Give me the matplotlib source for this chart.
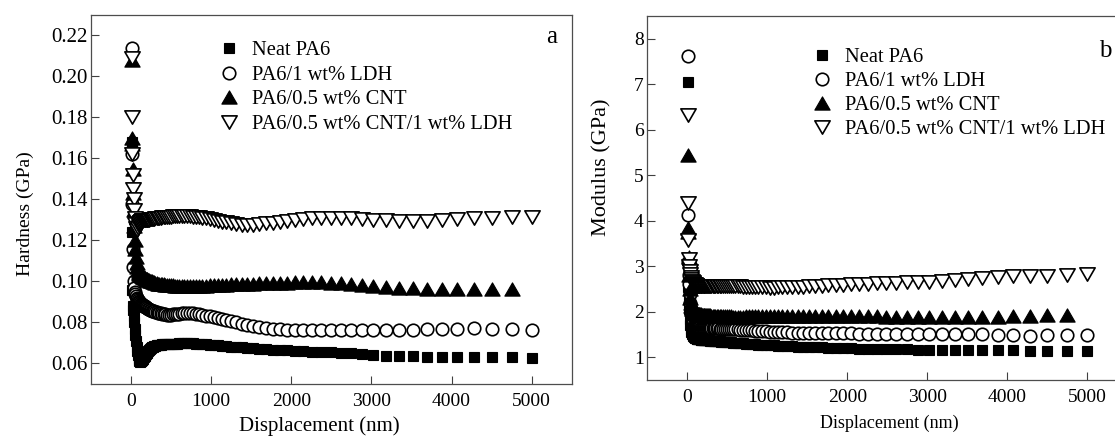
import matplotlib.pyplot as plt
from matplotlib.path import Path
from matplotlib.ticker import FormatStrFormatter

plt.rcParams['font.family'] = 'Liberation Serif'

# displacement grid (nm), shared by all curves
disp = [5, 10, 15, 20, 26, 32, 38, 45, 52, 60, 68, 76, 84, 92, 98,
        103, 108, 113, 119, 125, 131, 138, 145, 152, 160,
        168, 176, 185, 194, 204, 214, 225, 236, 248, 261,
        274, 288, 302, 317, 333, 350, 367, 386, 405, 426,
        447, 470, 493, 518, 544, 571, 600, 630, 662, 695,
        730, 767, 805, 846, 888, 933, 980, 1030, 1080, 1135,
        1190, 1250, 1315, 1380, 1450, 1525, 1600, 1680, 1765, 1855,
        1950, 2045, 2150, 2255, 2370, 2490, 2615, 2745, 2880, 3025,
        3180, 3345, 3515, 3690, 3880, 4070, 4280, 4500, 4750, 5000]

labels = ["Neat PA6", "PA6/1 wt% LDH", "PA6/0.5 wt% CNT",
          "PA6/0.5 wt% CNT/1 wt% LDH"]

# hardness (GPa)
hard_neat = [0.168, 0.124, 0.096, 0.088, 0.086, 0.083, 0.080, 0.077, 0.074, 0.071, 0.068, 0.066, 0.064, 0.0625, 0.0618,
             0.0613, 0.061, 0.0609, 0.061, 0.0612, 0.0615, 0.0619, 0.0623, 0.0627, 0.0632,
             0.0637, 0.0642, 0.0647, 0.0652, 0.0657, 0.0662, 0.0667, 0.0671, 0.0675, 0.0679,
             0.0682, 0.0685, 0.0687, 0.0689, 0.069, 0.0691, 0.0692, 0.0693, 0.0693, 0.0694,
             0.0694, 0.0694, 0.0694, 0.0695, 0.0696, 0.0697, 0.0698, 0.0698, 0.0698, 0.0698,
             0.0698, 0.0698, 0.0697, 0.0696, 0.0695, 0.0694, 0.0692, 0.069, 0.0688, 0.0686,
             0.0684, 0.0682, 0.068, 0.0678, 0.0676, 0.0674, 0.0672, 0.067, 0.0668, 0.0666,
             0.0664, 0.0662, 0.066, 0.0658, 0.0656, 0.0654, 0.0652, 0.065, 0.0645, 0.064,
             0.0638, 0.0636, 0.0635, 0.0633, 0.0632, 0.063, 0.063, 0.063, 0.063, 0.0628]
hard_ldh = [0.214, 0.162, 0.138, 0.116, 0.107, 0.100, 0.097, 0.095, 0.094, 0.093, 0.092, 0.0915, 0.091, 0.0905, 0.090,
            0.0898, 0.0896, 0.0894, 0.0892, 0.089, 0.0888, 0.0886, 0.0884, 0.0882, 0.088,
            0.0878, 0.0876, 0.0874, 0.0872, 0.087, 0.0868, 0.0865, 0.0862, 0.086, 0.0858,
            0.0856, 0.0854, 0.0852, 0.085, 0.0848, 0.0846, 0.0844, 0.0842, 0.084, 0.0839,
            0.0838, 0.0838, 0.0838, 0.0839, 0.084, 0.0842, 0.0843, 0.0844, 0.0845, 0.0845,
            0.0845, 0.0844, 0.0842, 0.084, 0.0837, 0.0834, 0.0831, 0.0827, 0.0822, 0.0817,
            0.0812, 0.0806, 0.08, 0.0794, 0.0788, 0.0783, 0.0778, 0.0774, 0.077, 0.0767,
            0.0765, 0.0764, 0.0763, 0.0762, 0.0762, 0.0762, 0.0762, 0.0763, 0.0763, 0.0764,
            0.0764, 0.0765, 0.0765, 0.0766, 0.0766, 0.0767, 0.0772, 0.0767, 0.0766, 0.0763]
hard_cnt = [0.208, 0.170, 0.167, 0.155, 0.143, 0.135, 0.127, 0.120, 0.116, 0.112, 0.109, 0.107, 0.1055, 0.1045, 0.104,
            0.1038, 0.1036, 0.1034, 0.1032, 0.103, 0.1028, 0.1026, 0.1024, 0.1022, 0.102,
            0.1018, 0.1016, 0.1014, 0.1012, 0.101, 0.1008, 0.1006, 0.1004, 0.1002, 0.1,
            0.0998, 0.0996, 0.0994, 0.0992, 0.099, 0.0989, 0.0988, 0.0987, 0.0986, 0.0985,
            0.0984, 0.0983, 0.0982, 0.0981, 0.098, 0.098, 0.098, 0.098, 0.098, 0.098,
            0.098, 0.098, 0.098, 0.098, 0.098, 0.098, 0.0981, 0.0982, 0.0983, 0.0984,
            0.0985, 0.0986, 0.0987, 0.0988, 0.0989, 0.099, 0.0991, 0.0992, 0.0993, 0.0994,
            0.0995, 0.0996, 0.0997, 0.0997, 0.0996, 0.0994, 0.0991, 0.0987, 0.0982, 0.0977,
            0.0973, 0.097, 0.0967, 0.0965, 0.0963, 0.0962, 0.0962, 0.0962, 0.0962]
hard_cnt_ldh = [0.209, 0.180, 0.162, 0.152, 0.145, 0.140, 0.135, 0.131, 0.128, 0.126, 0.125, 0.125, 0.126, 0.127, 0.128,
                0.1285, 0.1289, 0.1292, 0.1295, 0.1297, 0.1299, 0.13, 0.1301, 0.1302, 0.1302,
                0.1302, 0.1302, 0.1302, 0.1302, 0.1302, 0.1302, 0.1302, 0.1303, 0.1304, 0.1305,
                0.1306, 0.1307, 0.1308, 0.1309, 0.131, 0.1311, 0.1312, 0.1313, 0.1314, 0.1315,
                0.1316, 0.1317, 0.1317, 0.1318, 0.1318, 0.1318, 0.1318, 0.1318, 0.1318, 0.1318,
                0.1318, 0.1317, 0.1316, 0.1314, 0.1311, 0.1308, 0.1304, 0.13, 0.1296, 0.1292,
                0.1288, 0.1284, 0.128, 0.1278, 0.1277, 0.1278, 0.128, 0.1283, 0.1287, 0.1292,
                0.1297, 0.1302, 0.1306, 0.1309, 0.1311, 0.1311, 0.131, 0.1308, 0.1305, 0.1302,
                0.1298, 0.1296, 0.1296, 0.1297, 0.1298, 0.1303, 0.1308, 0.1312, 0.1314, 0.1315]

# modulus (GPa)
mod_neat = [7.05, 2.75, 2.55, 2.3, 2.05, 1.85, 1.7, 1.62, 1.56, 1.52, 1.49, 1.47, 1.455, 1.445, 1.44,
            1.43, 1.42, 1.415, 1.41, 1.405, 1.4, 1.398, 1.396, 1.394, 1.392,
            1.39, 1.388, 1.386, 1.384, 1.382, 1.38, 1.378, 1.376, 1.374, 1.372,
            1.37, 1.368, 1.365, 1.362, 1.36, 1.357, 1.354, 1.351, 1.348, 1.345,
            1.342, 1.338, 1.334, 1.33, 1.326, 1.322, 1.318, 1.314, 1.31, 1.305,
            1.3, 1.295, 1.29, 1.285, 1.28, 1.275, 1.27, 1.265, 1.26, 1.255,
            1.25, 1.245, 1.24, 1.235, 1.23, 1.225, 1.22, 1.215, 1.21, 1.205,
            1.2, 1.196, 1.192, 1.188, 1.184, 1.18, 1.176, 1.172, 1.168, 1.164,
            1.16, 1.157, 1.155, 1.153, 1.151, 1.15, 1.148, 1.147, 1.146, 1.145]
mod_ldh = [7.62, 4.13, 3.1, 2.8, 2.6, 2.4, 2.2, 2.05, 1.95, 1.87, 1.8, 1.75, 1.71, 1.69, 1.68,
           1.675, 1.672, 1.67, 1.668, 1.666, 1.664, 1.662, 1.66, 1.658, 1.656,
           1.654, 1.652, 1.65, 1.648, 1.646, 1.645, 1.644, 1.643, 1.642, 1.641,
           1.64, 1.639, 1.638, 1.637, 1.636, 1.635, 1.634, 1.633, 1.632, 1.631,
           1.63, 1.628, 1.626, 1.624, 1.621, 1.618, 1.615, 1.611, 1.607, 1.603,
           1.599, 1.595, 1.59, 1.585, 1.58, 1.575, 1.57, 1.565, 1.56, 1.555,
           1.55, 1.546, 1.542, 1.538, 1.535, 1.532, 1.53, 1.528, 1.526, 1.525,
           1.524, 1.523, 1.522, 1.521, 1.52, 1.52, 1.519, 1.518, 1.517, 1.516,
           1.514, 1.512, 1.51, 1.508, 1.5, 1.495, 1.475, 1.49, 1.49, 1.49]
mod_cnt = [5.45, 3.85, 3.75, 3.2, 2.8, 2.5, 2.3, 2.2, 2.12, 2.07, 2.03, 2.01, 2.0, 1.99, 1.98,
           1.975, 1.97, 1.965, 1.96, 1.955, 1.95, 1.948, 1.946, 1.944, 1.942,
           1.94, 1.938, 1.936, 1.934, 1.932, 1.93, 1.928, 1.926, 1.924, 1.922,
           1.92, 1.918, 1.916, 1.914, 1.912, 1.91, 1.908, 1.906, 1.904, 1.902,
           1.9, 1.899, 1.898, 1.897, 1.896, 1.895, 1.895, 1.895, 1.895, 1.895,
           1.896, 1.897, 1.898, 1.899, 1.9, 1.901, 1.902, 1.903, 1.904, 1.905,
           1.906, 1.907, 1.908, 1.909, 1.91, 1.911, 1.912, 1.912, 1.912, 1.911,
           1.91, 1.908, 1.905, 1.902, 1.898, 1.894, 1.89, 1.887, 1.885, 1.883,
           1.882, 1.882, 1.884, 1.888, 1.895, 1.905, 1.915, 1.92, 1.922]
mod_cnt_ldh = [6.32, 4.4, 3.57, 3.15, 3.0, 2.9, 2.82, 2.76, 2.72, 2.68, 2.65, 2.63, 2.61, 2.6, 2.59,
               2.585, 2.58, 2.578, 2.576, 2.574, 2.572, 2.57, 2.568, 2.566, 2.565,
               2.564, 2.563, 2.562, 2.561, 2.56, 2.56, 2.56, 2.56, 2.56, 2.56,
               2.56, 2.56, 2.561, 2.562, 2.563, 2.564, 2.565, 2.566, 2.567, 2.568,
               2.568, 2.568, 2.567, 2.566, 2.565, 2.563, 2.561, 2.559, 2.556, 2.553,
               2.55, 2.547, 2.544, 2.541, 2.538, 2.536, 2.534, 2.533, 2.533, 2.534,
               2.536, 2.539, 2.543, 2.548, 2.554, 2.56, 2.567, 2.574, 2.581, 2.588,
               2.595, 2.602, 2.609, 2.616, 2.623, 2.63, 2.637, 2.645, 2.655, 2.665,
               2.675, 2.69, 2.71, 2.735, 2.76, 2.78, 2.785, 2.79, 2.815, 2.83]

# equilateral triangle markers
tri_up = Path([(-1, -0.866), (1, -0.866), (0, 0.866), (-1, -0.866)], closed=True)
tri_down = Path([(-1, 0.866), (1, 0.866), (0, -0.866), (-1, 0.866)], closed=True)

styles = [dict(marker='s', ms=7.4, mfc='k', mew=0.8),
          dict(marker='o', ms=9.0, mfc='w', mew=1.2),
          dict(marker=tri_up, ms=11, mfc='k', mew=0.8),
          dict(marker=tri_down, ms=11, mfc='w', mew=1.2)]


def draw_panel(ax, series, ylim, yticks):
    for y, lab, st in zip(series, labels, styles):
        ax.plot(disp[:len(y)], y, ls='none', mec='k', label=lab, **st)
    ax.set_xlim(-500, 5500)
    ax.set_ylim(*ylim)
    ax.set_xticks([0, 1000, 2000, 3000, 4000, 5000])
    ax.set_yticks(yticks)
    ax.tick_params(direction='in', length=5.5, width=0.8, labelsize=14,
                   top=False, right=False, color='0.25')
    ax.tick_params(axis='x', pad=6.5)
    ax.tick_params(axis='y', pad=2.6)
    for sp in ax.spines.values():
        sp.set_color('0.3')
        sp.set_linewidth(0.9)


fig = plt.figure(figsize=(11.15, 4.36), dpi=100)

ax1 = fig.add_axes([0.0817, 0.1193, 0.431, 0.8463])
draw_panel(ax1, [hard_neat, hard_ldh, hard_cnt, hard_cnt_ldh], (0.05, 0.23),
           [0.06, 0.08, 0.10, 0.12, 0.14, 0.16, 0.18, 0.20, 0.22])
ax1.yaxis.set_major_formatter(FormatStrFormatter('%.2f'))
ax1.tick_params(axis='y', labelsize=15)
ax1.set_xlabel("Displacement (nm)", fontsize=15, va='top')
ax1.xaxis.set_label_coords(0.475, -0.088)
ax1.set_ylabel("Hardness (GPa)", fontsize=14)
ax1.yaxis.set_label_coords(-0.119, 0.462)
ax1.legend(loc='upper left', bbox_to_anchor=(0.265, 0.93), frameon=False,
           fontsize=14.8, handlelength=1.0, handletextpad=0.62, labelspacing=0.25,
           borderpad=0, borderaxespad=0, numpoints=1)
ax1.text(0.958, 0.924, "a", transform=ax1.transAxes, fontsize=18, ha='center', va='baseline')

ax2 = fig.add_axes([0.5805, 0.1284, 0.4305, 0.8349])
draw_panel(ax2, [mod_neat, mod_ldh, mod_cnt, mod_cnt_ldh], (0.5, 8.5),
           [1, 2, 3, 4, 5, 6, 7, 8])
ax2.set_xlabel("Displacement (nm)", fontsize=13, va='top')
ax2.xaxis.set_label_coords(0.5035, -0.096)
ax2.set_ylabel("Modulus (GPa)", fontsize=16)
ax2.yaxis.set_label_coords(-0.074, 0.585)
ax2.legend(loc='upper left', bbox_to_anchor=(0.3425, 0.912), frameon=False,
           fontsize=14.8, handlelength=1.0, handletextpad=0.62, labelspacing=0.22,
           borderpad=0, borderaxespad=0, numpoints=1)
ax2.text(0.9546, 0.887, "b", transform=ax2.transAxes, fontsize=18, ha='center', va='baseline')

fig.savefig("out.png", dpi=100)
